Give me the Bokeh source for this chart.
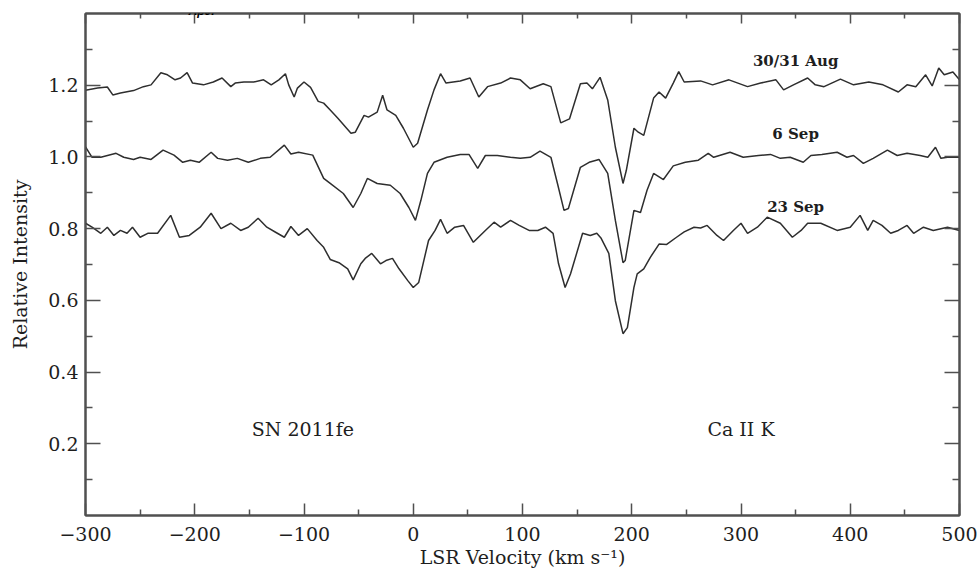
from bokeh.plotting import figure
from bokeh.models import Range1d, LinearAxis, FixedTicker, Label
from bokeh.core.properties import value
from bokeh.embed import file_html
from bokeh.resources import INLINE

# ---------------- data ----------------
vel_aug = [-300, -289, -280, -275, -268, -256, -247, -240, -231, -225,
           -218, -213, -207, -202, -192, -183, -175, -167, -163, -155,
           -146, -137, -130, -123, -117, -114, -109, -106, -100, -94,
           -87, -82, -76, -69, -57, -53, -45, -41, -33, -28,
           -24, -16, -9, 0, 4, 13, 19, 25, 30, 43,
           52, 60, 68, 80, 89, 98, 107, 119, 126, 135,
           143, 153, 159, 164, 171, 178, 185, 192, 195, 202,
           206, 211, 220, 225, 231, 238, 243, 248, 263, 274,
           289, 306, 318, 332, 339, 348, 361, 368, 376, 391,
           403, 417, 430, 444, 452, 460, 469, 475, 481, 486,
           494, 500]
int_aug = [1.186, 1.192, 1.195, 1.173, 1.178, 1.185, 1.196, 1.201, 1.235, 1.229,
           1.215, 1.220, 1.235, 1.206, 1.201, 1.209, 1.220, 1.196, 1.206, 1.209,
           1.209, 1.215, 1.201, 1.215, 1.232, 1.201, 1.167, 1.192, 1.209, 1.194,
           1.155, 1.150, 1.131, 1.108, 1.066, 1.069, 1.116, 1.111, 1.125, 1.172,
           1.131, 1.116, 1.080, 1.027, 1.038, 1.131, 1.187, 1.232, 1.206, 1.212,
           1.220, 1.167, 1.196, 1.206, 1.220, 1.215, 1.190, 1.204, 1.196, 1.095,
           1.106, 1.204, 1.206, 1.190, 1.222, 1.159, 1.027, 0.926, 0.962, 1.080,
           1.069, 1.060, 1.164, 1.181, 1.164, 1.206, 1.238, 1.209, 1.212, 1.201,
           1.215, 1.196, 1.206, 1.215, 1.187, 1.201, 1.220, 1.201, 1.196, 1.217,
           1.201, 1.209, 1.201, 1.181, 1.201, 1.196, 1.229, 1.198, 1.248, 1.229,
           1.237, 1.215]

vel_sep6 = [-300, -294, -286, -272, -265, -256, -250, -240, -229, -219,
            -211, -204, -196, -185, -179, -170, -161, -151, -140, -131,
            -118, -112, -105, -92, -82, -76, -64, -55, -48, -42,
            -33, -21, -12, -4, 2, 7, 13, 19, 31, 43,
            51, 59, 66, 77, 89, 98, 107, 116, 126, 132,
            138, 142, 153, 161, 170, 178, 185, 192, 194, 202,
            208, 214, 220, 229, 238, 249, 261, 270, 275, 290,
            302, 316, 327, 336, 345, 357, 364, 374, 388, 397,
            403, 412, 421, 434, 443, 452, 464, 471, 478, 483,
            489, 500]
int_sep6 = [1.028, 0.999, 0.999, 1.010, 0.999, 0.993, 0.999, 0.993, 1.019, 1.005,
            0.985, 0.991, 0.985, 1.013, 0.996, 0.991, 0.996, 0.985, 0.996, 0.999,
            1.033, 1.008, 1.013, 1.005, 0.940, 0.926, 0.898, 0.859, 0.898, 0.940,
            0.926, 0.921, 0.898, 0.859, 0.823, 0.879, 0.954, 0.985, 0.999, 1.007,
            1.007, 0.968, 1.004, 1.004, 0.999, 0.996, 0.999, 1.016, 0.999, 0.926,
            0.851, 0.856, 0.971, 0.985, 0.993, 0.954, 0.823, 0.705, 0.711, 0.851,
            0.845, 0.907, 0.954, 0.937, 0.975, 0.985, 0.991, 1.010, 0.999, 1.013,
            0.999, 1.004, 1.007, 0.996, 0.999, 0.985, 1.004, 1.007, 1.013, 0.999,
            1.004, 0.982, 0.996, 1.019, 1.004, 1.010, 1.004, 0.999, 1.027, 0.996,
            0.999, 0.999]

vel_sep23 = [-300, -294, -286, -280, -274, -268, -262, -257, -250, -243,
             -234, -222, -214, -205, -195, -185, -176, -167, -158, -151,
             -142, -134, -126, -118, -112, -105, -97, -88, -82, -76,
             -68, -60, -55, -48, -44, -38, -30, -25, -19, -13,
             -5, 0, 5, 14, 20, 25, 31, 38, 46, 55,
             66, 74, 80, 89, 97, 106, 114, 121, 128, 133,
             139, 144, 155, 162, 168, 172, 179, 185, 192, 196,
             202, 205, 211, 217, 225, 232, 241, 248, 257, 263,
             269, 278, 284, 293, 300, 306, 315, 324, 336, 347,
             355, 361, 373, 388, 400, 409, 416, 421, 429, 437,
             444, 452, 458, 467, 476, 489, 500]
int_sep23 = [0.815, 0.804, 0.787, 0.804, 0.781, 0.795, 0.787, 0.804, 0.776, 0.787,
             0.787, 0.837, 0.776, 0.781, 0.804, 0.843, 0.800, 0.815, 0.795, 0.804,
             0.829, 0.804, 0.790, 0.776, 0.806, 0.781, 0.800, 0.767, 0.748, 0.714,
             0.705, 0.688, 0.657, 0.702, 0.717, 0.731, 0.702, 0.711, 0.717, 0.688,
             0.655, 0.636, 0.650, 0.767, 0.795, 0.826, 0.787, 0.804, 0.809, 0.762,
             0.795, 0.818, 0.804, 0.823, 0.809, 0.795, 0.795, 0.804, 0.787, 0.702,
             0.636, 0.674, 0.787, 0.781, 0.787, 0.773, 0.731, 0.599, 0.507, 0.524,
             0.636, 0.674, 0.688, 0.720, 0.757, 0.756, 0.776, 0.791, 0.804, 0.802,
             0.809, 0.781, 0.767, 0.795, 0.815, 0.787, 0.804, 0.832, 0.815, 0.776,
             0.795, 0.815, 0.815, 0.795, 0.804, 0.837, 0.795, 0.823, 0.809, 0.787,
             0.795, 0.809, 0.787, 0.804, 0.795, 0.804, 0.795]

date_labels = ["30/31 Aug", "6 Sep", "23 Sep"]
date_label_x = [350, 350, 350]
date_label_y = [1.268, 1.063, 0.860]

note_labels = ["SN 2011fe", "Ca II K"]
note_label_x = [-101, 300]
note_label_y = [0.241, 0.241]

x_ticks = [-300, -200, -100, 0, 100, 200, 300, 400, 500]
x_tick_labels = ["\u2212300", "\u2212200", "\u2212100", "0", "100", "200", "300", "400", "500"]
x_minor = [-250, -150, -50, 50, 150, 250, 350, 450]
y_ticks = [0.2, 0.4, 0.6, 0.8, 1.0, 1.2]
y_tick_labels = ["0.2", "0.4", "0.6", "0.8", "1.0", "1.2"]
y_minor = [0.1, 0.3, 0.5, 0.7, 0.9, 1.1, 1.3]

# ---------------- figure ----------------
FONT = "DejaVu Serif"
INK = "#2e2e2e"
AX = "#505050"
TXT = "#1e1e1e"

p = figure(width=979, height=573, output_backend="svg", toolbar_location=None,
           x_range=Range1d(-300, 500), y_range=Range1d(0, 1.4),
           min_border_left=85, min_border_right=20, min_border_top=13, min_border_bottom=58,
           x_axis_label="LSR Velocity (km s\u207b\u00b9)", y_axis_label="Relative Intensity")
p.grid.visible = False
p.outline_line_color = AX
p.outline_line_width = 2
p.background_fill_color = "white"
p.border_fill_color = "white"


def style_axis(ax, major_in, minor_in):
    ax.axis_line_color = AX
    ax.axis_line_width = 2
    ax.major_tick_in = major_in
    ax.major_tick_out = 0
    ax.minor_tick_in = minor_in
    ax.minor_tick_out = 0
    ax.major_tick_line_color = AX
    ax.major_tick_line_width = 1.5
    ax.minor_tick_line_color = AX
    ax.minor_tick_line_width = 1.5
    ax.major_label_text_font = FONT
    ax.major_label_text_color = TXT
    ax.axis_label_text_font = FONT
    ax.axis_label_text_font_style = "normal"
    ax.axis_label_text_color = TXT


xax = p.xaxis[0]
xax.ticker = FixedTicker(ticks=x_ticks, minor_ticks=x_minor)
xax.major_label_overrides = dict(zip(x_ticks, x_tick_labels))
style_axis(xax, 12, 6)
xax.major_label_text_font_size = "19px"
xax.major_label_standoff = 11
xax.axis_label_text_font_size = "19px"
xax.axis_label_standoff = 2

yax = p.yaxis[0]
yax.ticker = FixedTicker(ticks=y_ticks, minor_ticks=y_minor)
yax.major_label_overrides = dict(zip(y_ticks, y_tick_labels))
style_axis(yax, 15, 7)
yax.major_label_text_font_size = "19px"
yax.major_label_standoff = 7
yax.axis_label_text_font_size = "19px"
yax.axis_label_standoff = 14

# tick-only axes on top and right (labels not painted)
top = LinearAxis(ticker=FixedTicker(ticks=x_ticks, minor_ticks=x_minor))
style_axis(top, 10, 5)
top.major_label_text_font_size = "1px"
top.major_label_text_color = None
top.major_label_standoff = 0
p.add_layout(top, "above")

right = LinearAxis(ticker=FixedTicker(ticks=y_ticks, minor_ticks=y_minor))
style_axis(right, 15, 7)
right.major_label_text_font_size = "1px"
right.major_label_text_color = None
right.major_label_standoff = 0
p.add_layout(right, "right")

# spectra
for xs, ys in [(vel_aug, int_aug), (vel_sep6, int_sep6), (vel_sep23, int_sep23)]:
    p.line(xs, ys, line_color=INK, line_width=1.5)

# annotations
p.text(x=date_label_x, y=date_label_y, text=date_labels,
       text_font=value(FONT), text_font_size="15px", text_font_style="bold",
       text_color=TXT, text_align="center", text_baseline="middle")
p.text(x=note_label_x, y=note_label_y, text=note_labels,
       text_font=value(FONT), text_font_size="19px",
       text_color=TXT, text_align="center", text_baseline="middle")

# journal mark at the very top (kept small so it stays inside the canvas)
p.add_layout(Label(x=-193.8, y=1.4056, text="ApJ.", text_font="Liberation Sans",
                   text_font_size="12px", text_font_style="bold italic",
                   text_color="black", text_align="center", text_baseline="alphabetic"))

open("out.html", "w").write(file_html(p, INLINE))
